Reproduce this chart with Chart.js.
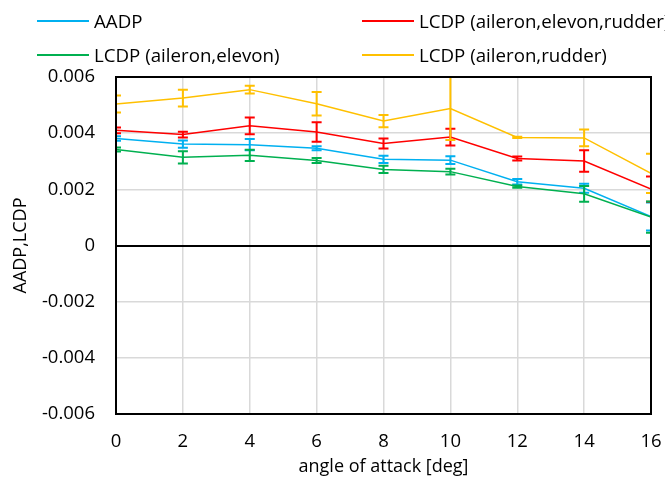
<!DOCTYPE html>
<html>
<head>
<meta charset="utf-8">
<script src="https://cdn.jsdelivr.net/npm/chart.js@4"></script>
<style>
    html, body { margin: 0; padding: 0; background: #fff; overflow: hidden; }
    #wrap { position: relative; width: 665px; height: 478px; overflow: hidden; font-family: 'Open Sans', sans-serif; }
    .legend-item { position: absolute; height: 24px; line-height: 24px; font-size: 18.7px; color: #000; white-space: nowrap; }
    .legend-item .swatch { position: absolute; left: 0; top: 11px; width: 52px; height: 1.5px; }
    .legend-item .label { position: absolute; left: 57px; top: 0; }
</style>
</head>
<body>
<div id="wrap">
    <canvas id="chart" width="665" height="478"></canvas>
    <div id="legend"></div>
</div>
<script>
// angle of attack [deg]
const angles = [0, 2, 4, 6, 8, 10, 12, 14, 16];

const aadp = [0.00381, 0.00361, 0.00359, 0.00346, 0.00307, 0.00304, 0.00227, 0.00204, 0.00103];
const aadpErr = [0.00008, 0.00013, 0.0002, 0.00007, 0.00013, 0.00014, 0.0001, 0.00016, 0.0005];

const lcdpAer = [0.0041, 0.00395, 0.00426, 0.00404, 0.00363, 0.00386, 0.0031, 0.00301, 0.00201];
const lcdpAerErr = [0.0001, 0.0001, 0.0003, 0.00035, 0.00018, 0.0003, 0.00007, 0.00038, 0.00045];

const lcdpAe = [0.00342, 0.00314, 0.00321, 0.00303, 0.00271, 0.00263, 0.0021, 0.00184, 0.00101];
const lcdpAeErr = [0.00007, 0.00022, 0.0002, 0.00009, 0.00013, 0.0001, 0.00004, 0.00028, 0.00056];

const lcdpAr = [0.00504, 0.00525, 0.00555, 0.00505, 0.00443, 0.00488, 0.00385, 0.00383, 0.00257];
const lcdpArErr = [0.0003, 0.0003, 0.00014, 0.00042, 0.00022, 0.00112, 0.00002, 0.0003, 0.0007];

const series = [
    { label: 'AADP', values: aadp, errors: aadpErr, color: '#00B0F0', order: 4 },
    { label: 'LCDP (aileron,elevon,rudder)', values: lcdpAer, errors: lcdpAerErr, color: '#FF0000', order: 3 },
    { label: 'LCDP (aileron,elevon)', values: lcdpAe, errors: lcdpAeErr, color: '#00B050', order: 2 },
    { label: 'LCDP (aileron,rudder)', values: lcdpAr, errors: lcdpArErr, color: '#FFC000', order: 1 }
];

// legend positions (two columns, Excel style)
const legendSpots = [[37, 9], [362, 9], [37, 43], [362, 43]];
document.getElementById('legend').innerHTML = series.map((s, i) => `
    <div class="legend-item" style="left:${legendSpots[i][0]}px; top:${legendSpots[i][1]}px;">
        <div class="swatch" style="background:${s.color}"></div>
        <span class="label">${s.label}</span>
    </div>
`).join('');

// draw each series' error bars right after the series itself
const errorBars = {
    id: 'errorBars',
    afterDatasetDraw(chart, args) {
        const ds = chart.data.datasets[args.index];
        const { ctx, chartArea } = chart;
        const x = chart.scales.x, y = chart.scales.y;
        ctx.save();
        ctx.beginPath();
        ctx.rect(chartArea.left, chartArea.top, chartArea.right - chartArea.left, chartArea.bottom - chartArea.top);
        ctx.clip();
        ctx.strokeStyle = ds.borderColor;
        ctx.lineWidth = 2;
        ds.data.forEach((p, j) => {
            const e = ds.errors[j];
            const px = x.getPixelForValue(p.x);
            const top = y.getPixelForValue(p.y + e);
            const bot = y.getPixelForValue(p.y - e);
            ctx.beginPath();
            ctx.moveTo(px, top); ctx.lineTo(px, bot);
            ctx.moveTo(px - 5, top); ctx.lineTo(px + 5, top);
            ctx.moveTo(px - 5, bot); ctx.lineTo(px + 5, bot);
            ctx.stroke();
        });
        ctx.restore();
    }
};

// plot area frame
const frame = {
    id: 'frame',
    afterDraw(chart) {
        const { ctx, chartArea } = chart;
        ctx.save();
        ctx.strokeStyle = '#000';
        ctx.lineWidth = 2;
        ctx.strokeRect(chartArea.left, chartArea.top, chartArea.right - chartArea.left, chartArea.bottom - chartArea.top);
        ctx.restore();
    }
};

const font = { family: "'Open Sans', sans-serif", size: 18.5 };

new Chart(document.getElementById('chart'), {
    type: 'line',
    data: {
        datasets: series.map(s => ({
            label: s.label,
            data: angles.map((a, i) => ({ x: a, y: s.values[i] })),
            errors: s.errors,
            borderColor: s.color,
            backgroundColor: s.color,
            borderWidth: 1.5,
            pointRadius: 0,
            tension: 0,
            order: s.order
        }))
    },
    options: {
        responsive: false,
        animation: false,
        layout: { padding: { top: 77, right: 14, left: 0, bottom: 0 } },
        plugins: {
            legend: { display: false },
            tooltip: { enabled: false }
        },
        scales: {
            x: {
                type: 'linear',
                min: 0,
                max: 16,
                ticks: { stepSize: 2, color: '#000', font: font, padding: 17 },
                grid: { color: '#D9D9D9', lineWidth: 1.5, drawTicks: false },
                border: { display: false },
                title: { display: true, text: 'angle of attack [deg]', color: '#000', font: { family: font.family, size: 18 }, padding: { top: 0, bottom: 0 } },
                afterFit(axis) {
                    axis.height = 64;
                    axis.paddingLeft = 0;
                    axis.paddingRight = 0;
                }
            },
            y: {
                min: -0.006,
                max: 0.006,
                ticks: {
                    stepSize: 0.002,
                    color: '#000',
                    font: font,
                    padding: 21,
                    callback: v => Math.abs(v) < 1e-9 ? '0' : v.toFixed(3)
                },
                grid: {
                    color: c => Math.abs(c.tick.value) < 1e-9 ? '#000' : '#D9D9D9',
                    lineWidth: c => Math.abs(c.tick.value) < 1e-9 ? 2 : 1.5,
                    drawTicks: false
                },
                border: { display: false },
                title: { display: true, text: 'AADP,LCDP', color: '#000', font: { family: font.family, size: 18 }, padding: { top: 10, bottom: 0 } },
                afterFit(axis) {
                    axis.width = 116;
                    axis.paddingTop = 0;
                    axis.paddingBottom = 0;
                }
            }
        }
    },
    plugins: [errorBars, frame]
});
</script>
</body>
</html>
